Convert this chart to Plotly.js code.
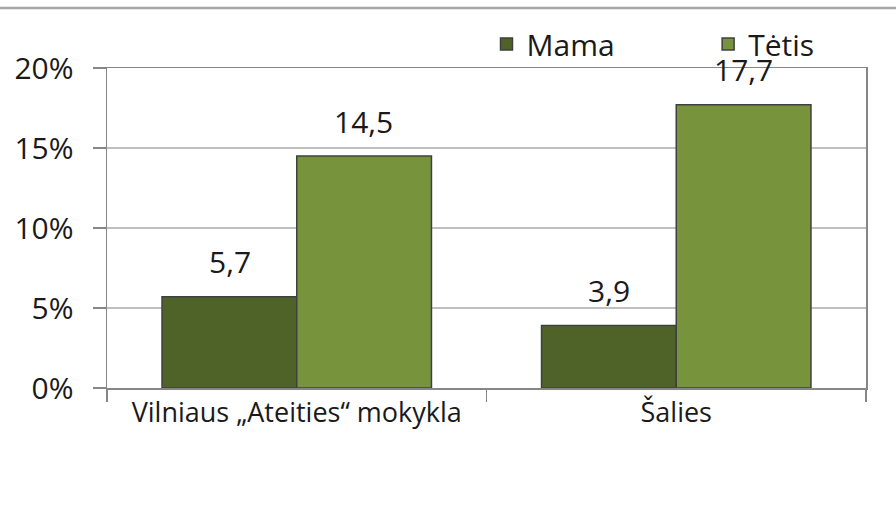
<!DOCTYPE html>
<html>
<head>
<meta charset="utf-8">
<script src="https://cdn.plot.ly/plotly-3.0.1.min.js"></script>
<style>html,body{margin:0;padding:0;background:#fff;}#chart{width:896px;height:523px;}</style>
</head>
<body>
<div id="chart"></div>
<script>
const categories = ["Vilniaus „Ateities“ mokykla", "Šalies"];
const seriesNames = ["Mama", "Tėtis"];
const mamaValues = [5.7, 3.9];
const tetisValues = [14.5, 17.7];
const yTicks = [0, 5, 10, 15, 20];
const yTickLabels = ["0%", "5%", "10%", "15%", "20%"];

const FONT = "Open Sans, Lato, sans-serif";
const colors = ["#4f6228", "#77933c"];
const allValues = [mamaValues, tetisValues];
const legendIds = ["legend", "legend2"];

const traces = allValues.map((vals, k) => ({
  type: "bar",
  name: seriesNames[k],
  x: categories,
  y: vals,
  legend: legendIds[k],
  marker: {color: colors[k], line: {color: "#404040", width: 1.5}},
  hoverinfo: "skip"
}));

const barOffset = 0.177;
const annotations = [];
allValues.forEach((vals, k) => {
  vals.forEach((v, i) => {
    annotations.push({
      xref: "x", yref: "y",
      x: i + (k === 0 ? -barOffset : barOffset),
      y: v,
      text: String(v).replace(".", ","),
      showarrow: false,
      yanchor: "middle",
      yshift: 35,
      font: {family: FONT, size: 30, color: "#1a1a1a"}
    });
  });
});

const legendCommon = {orientation: "h", xanchor: "left", y: 1.075, yanchor: "middle",
  itemclick: false, font: {family: FONT, size: 30, color: "#1a1a1a"},
  bgcolor: "rgba(0,0,0,0)", borderwidth: 0, tracegroupgap: 0};

const layout = {
  width: 896, height: 523,
  margin: {l: 107, r: 30, t: 68, b: 135, autoexpand: false},
  paper_bgcolor: "#fff", plot_bgcolor: "#fff",
  barmode: "group", bargap: 0.29, bargroupgap: 0,
  showlegend: true,
  legend: Object.assign({}, legendCommon, {x: 0.500}),
  legend2: Object.assign({}, legendCommon, {x: 0.792}),
  xaxis: {type: "category", showline: true, linecolor: "#868686", linewidth: 1.5, mirror: true,
          ticks: "outside", ticklen: 12, tickcolor: "#868686", tickwidth: 1.5, tickson: "boundaries",
          tickfont: {family: FONT, size: 27, color: "#1a1a1a"}, showgrid: false, fixedrange: true},
  yaxis: {range: [0, 20], tickvals: yTicks, ticktext: yTickLabels,
          showline: true, linecolor: "#868686", linewidth: 1.5, mirror: true,
          ticks: "outside", ticklen: 13, tickcolor: "#868686", tickwidth: 1.5,
          ticklabelstandoff: 13,
          gridcolor: "#bfbfbf", gridwidth: 1.5, zeroline: false,
          tickfont: {family: FONT, size: 30, color: "#1a1a1a"}, fixedrange: true},
  shapes: [{type: "line", xref: "paper", yref: "paper", x0: -0.15, x1: 1.05, y0: 1.1875, y1: 1.1875,
            line: {color: "#a6a6a6", width: 2.5}}],
  annotations: annotations
};

Plotly.newPlot("chart", traces, layout, {displayModeBar: false, staticPlot: true});
</script>
</body>
</html>
